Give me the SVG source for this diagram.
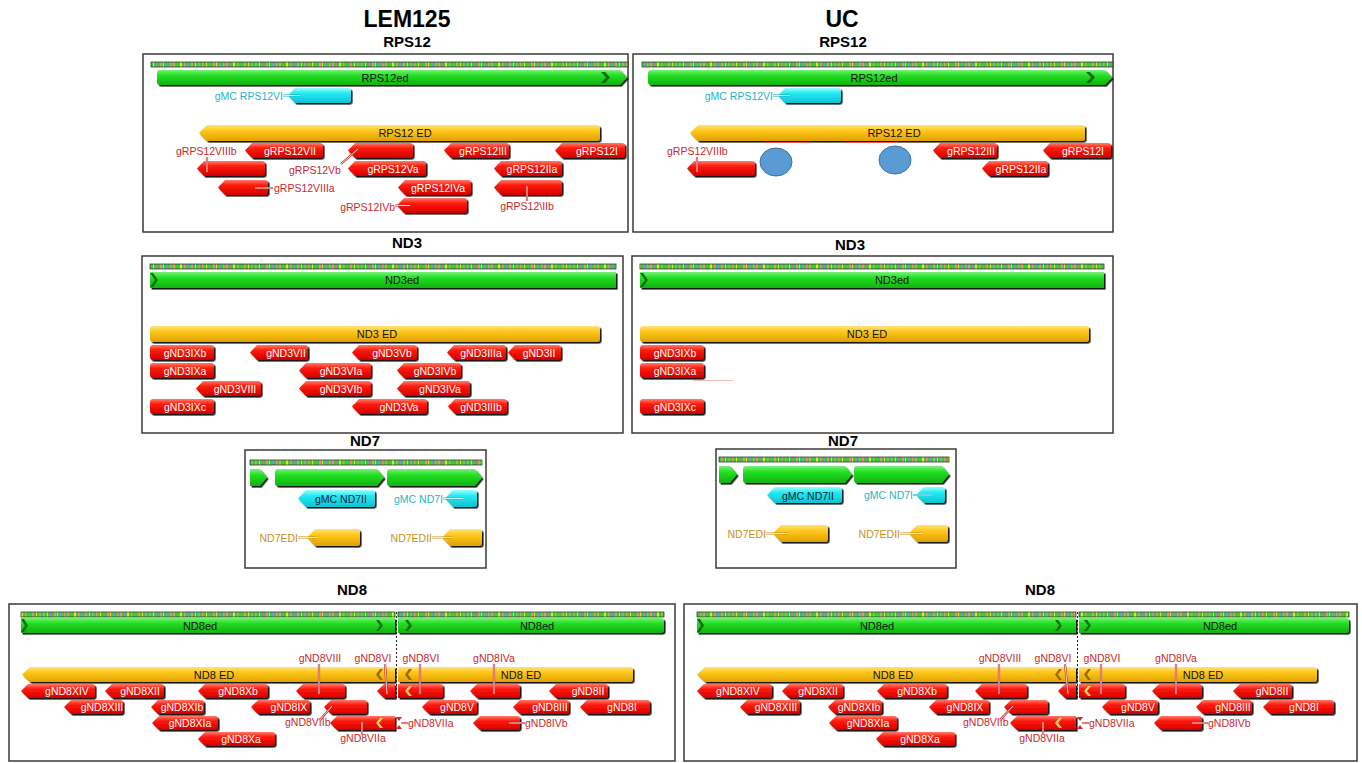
<svg xmlns="http://www.w3.org/2000/svg" width="1362" height="763" viewBox="0 0 1362 763">
<style>
.pn{fill:#fff;stroke:#3a3a3a;stroke-width:1.5}
.r{fill:url(#gr);filter:url(#ds)}
.g{fill:url(#gg);filter:url(#ds)}
.o{fill:url(#go);filter:url(#ds)}
.c{fill:url(#gc);filter:url(#ds)}
.seq{fill:url(#seq);stroke:#222;stroke-width:0.7}
text{font-family:"Liberation Sans",Arial,sans-serif;font-size:10.5px}
.w{fill:#fff;text-anchor:middle}
.k{fill:#111;text-anchor:middle;font-size:11px}
.lr{fill:#c8282c}
.lc{fill:#1fb4c4}
.lo{fill:#c8901c}
.e{text-anchor:end}
.m{text-anchor:middle}
.h1{font-weight:bold;font-size:23px;text-anchor:middle;fill:#000}
.h2{font-weight:bold;font-size:15px;text-anchor:middle;fill:#000}
.cg{fill:#0b6e0b}
.co{fill:#9a6a00}
.cy{fill:#ffd860}
.ld{fill:none;stroke-width:2.2}
.sr{stroke:#c8282c}.sc{stroke:#1fb4c4}.so{stroke:#c8901c}
.lw{fill:none;stroke:#fff;stroke-width:0.8}
.brk{stroke:#222;stroke-width:1;stroke-dasharray:2 2}
</style>
<defs>
<filter id="ds" x="-5%" y="-20%" width="115%" height="160%"><feDropShadow dx="1.6" dy="1.6" stdDeviation="0.3" flood-color="#000" flood-opacity="0.9"/></filter>
<linearGradient id="gr" x1="0" y1="0" x2="0" y2="1"><stop offset="0" stop-color="#ff7a6a"/><stop offset="0.35" stop-color="#ff1a0a"/><stop offset="1" stop-color="#d00000"/></linearGradient>
<linearGradient id="gg" x1="0" y1="0" x2="0" y2="1"><stop offset="0" stop-color="#7af07a"/><stop offset="0.35" stop-color="#22e022"/><stop offset="1" stop-color="#12b012"/></linearGradient>
<linearGradient id="go" x1="0" y1="0" x2="0" y2="1"><stop offset="0" stop-color="#ffe27a"/><stop offset="0.35" stop-color="#ffc81a"/><stop offset="1" stop-color="#e0a000"/></linearGradient>
<linearGradient id="gc" x1="0" y1="0" x2="0" y2="1"><stop offset="0" stop-color="#9affff"/><stop offset="0.35" stop-color="#22eaf2"/><stop offset="1" stop-color="#10c2d2"/></linearGradient>
<pattern id="seq" patternUnits="userSpaceOnUse" width="53" height="8">
<rect width="53" height="8" fill="#2bd42b"/>
<rect x="1" width="2" height="8" fill="#f08a8a"/><rect x="4" width="1" height="8" fill="#e8e030"/><rect x="7" width="2" height="8" fill="#8a8af0"/><rect x="11" width="1.5" height="8" fill="#f08a8a"/><rect x="14" width="2" height="8" fill="#f08a8a"/><rect x="18" width="1" height="8" fill="#c070c0"/><rect x="21" width="2" height="8" fill="#e8e030"/><rect x="25" width="1.5" height="8" fill="#f08a8a"/><rect x="29" width="1" height="8" fill="#8a8af0"/><rect x="32" width="2" height="8" fill="#f08a8a"/><rect x="36" width="1" height="8" fill="#e8e030"/><rect x="39" width="2" height="8" fill="#a0a0a0"/><rect x="43" width="1.5" height="8" fill="#f08a8a"/><rect x="47" width="1" height="8" fill="#e8e030"/><rect x="50" width="1.5" height="8" fill="#c070c0"/>
</pattern>
</defs>
<rect width="1362" height="763" fill="#fff"/>

<g id="titles">
<text class="h1" x="407" y="27">LEM125</text>
<text class="h1" x="842" y="27">UC</text>
<text class="h2" x="407" y="47">RPS12</text>
<text class="h2" x="843" y="47">RPS12</text>
<text class="h2" x="407" y="248">ND3</text>
<text class="h2" x="850" y="250">ND3</text>
<text class="h2" x="365" y="446">ND7</text>
<text class="h2" x="843" y="446">ND7</text>
<text class="h2" x="352" y="595">ND8</text>
<text class="h2" x="1040" y="595">ND8</text>
</g>

<g id="panels">
<rect class="pn" x="143" y="54" width="485" height="178"/>
<rect class="pn" x="633" y="54" width="480" height="178"/>
<rect class="pn" x="142" y="256" width="481" height="177"/>
<rect class="pn" x="632" y="256" width="481" height="177"/>
<rect class="pn" x="245" y="450" width="241" height="118"/>
<rect class="pn" x="716" y="449" width="240" height="119"/>
<rect class="pn" x="9" y="604" width="666" height="157"/>
<rect class="pn" x="684" y="604" width="673" height="157"/>
</g>

<!-- RPS12 LEM125 -->
<g id="rps12-l-seq"><rect class="seq" x="151" y="62" width="477" height="5"/></g>
<g id="rps12-l-RPS12ed"><path class="g" d="M160,70H620L627,77.5L620,85H160Q157,85 157,82V73Q157,70 160,70Z"/><polygon class="cg" points="601,72 605,72 610,77.5 605,83 601,83 606,77.5"/><text class="k" x="385" y="81.5">RPS12ed</text></g>
<g id="rps12-l-gMCRPS12VI"><path class="c" d="M288,95.5L295,88H348Q351,88 351,91V100Q351,103 348,103H295Z"/><text class="lc e" x="283" y="100">gMC RPS12VI</text></g>
<g id="rps12-l-ED"><path class="o" d="M199,133L207,125H597Q600,125 600,128V138Q600,141 597,141H207Z"/><text class="k" x="405" y="137">RPS12 ED</text></g>
<g id="rps12-l-VII"><path class="r" d="M245,150.5L252,143H320Q323,143 323,146V155Q323,158 320,158H252Z"/><text class="w" x="290" y="154.5">gRPS12VII</text></g>
<g id="rps12-l-Vb"><path class="r" d="M348,150.5L355,143H410Q413,143 413,146V155Q413,158 410,158H355Z"/><text class="lr" x="289" y="174">gRPS12Vb</text></g>
<g id="rps12-l-III"><path class="r" d="M444,150.5L451,143H506Q509,143 509,146V155Q509,158 506,158H451Z"/><text class="w" x="483" y="154.5">gRPS12III</text></g>
<g id="rps12-l-I"><path class="r" d="M555,150.5L562,143H622Q625,143 625,146V155Q625,158 622,158H562Z"/><text class="w" x="597" y="154.5">gRPS12I</text></g>
<g id="rps12-l-VIIIb"><path class="r" d="M197,168.5L204,161H262Q265,161 265,164V173Q265,176 262,176H204Z"/><text class="lr" x="176" y="155">gRPS12VIIIb</text></g>
<g id="rps12-l-Va"><path class="r" d="M348,168.5L355,161H423Q426,161 426,164V173Q426,176 423,176H355Z"/><text class="w" x="393" y="172.5">gRPS12Va</text></g>
<g id="rps12-l-IIa"><path class="r" d="M494,168.5L501,161H559Q562,161 562,164V173Q562,176 559,176H501Z"/><text class="w" x="532" y="172.5">gRPS12IIa</text></g>
<g id="rps12-l-VIIIa"><path class="r" d="M218,187.5L225,180H265Q268,180 268,183V192Q268,195 265,195H225Z"/><text class="lr" x="274" y="192">gRPS12VIIIa</text></g>
<g id="rps12-l-IVa"><path class="r" d="M398,187.5L405,180H468Q471,180 471,183V192Q471,195 468,195H405Z"/><text class="w" x="438" y="191.5">gRPS12IVa</text></g>
<g id="rps12-l-IIb"><path class="r" d="M494,187.5L501,180H559Q562,180 562,183V192Q562,195 559,195H501Z"/><text class="lr m" x="527" y="210">gRPS12\IIb</text></g>
<g id="rps12-l-IVb"><path class="r" d="M397,205.5L404,198H464Q467,198 467,201V210Q467,213 464,213H404Z"/><text class="lr e" x="395" y="211">gRPS12IVb</text></g>

<!-- RPS12 UC -->
<g id="rps12-r-seq"><rect class="seq" x="642" y="62" width="471" height="5"/></g>
<g id="rps12-r-RPS12ed"><path class="g" d="M651,70H1105L1112,77.5L1105,85H651Q648,85 648,82V73Q648,70 651,70Z"/><polygon class="cg" points="1086,72 1090,72 1095,77.5 1090,83 1086,83 1091,77.5"/><text class="k" x="874" y="81.5">RPS12ed</text></g>
<g id="rps12-r-gMCRPS12VI"><path class="c" d="M778,95.5L785,88H838Q841,88 841,91V100Q841,103 838,103H785Z"/><text class="lc e" x="773" y="100">gMC RPS12VI</text></g>
<g id="rps12-r-ED"><path class="o" d="M690,133L698,125H1082Q1085,125 1085,128V138Q1085,141 1082,141H698Z"/><text class="k" x="894" y="137">RPS12 ED</text></g>
<g id="rps12-r-marks"><line x1="765" y1="142.5" x2="810" y2="142.5" stroke="#e06060" stroke-width="1"/><line x1="845" y1="142.5" x2="898" y2="142.5" stroke="#e06060" stroke-width="1"/></g>
<g id="rps12-r-VIIIb"><path class="r" d="M687,168.5L694,161H752Q755,161 755,164V173Q755,176 752,176H694Z"/><text class="lr" x="667" y="155">gRPS12VIIIb</text></g>
<g id="rps12-r-blob1"><ellipse cx="776" cy="162" rx="16" ry="14" fill="#5b9bd5" stroke="#41719c" stroke-width="1"/></g>
<g id="rps12-r-blob2"><ellipse cx="895" cy="160" rx="16" ry="14" fill="#5b9bd5" stroke="#41719c" stroke-width="1"/></g>
<g id="rps12-r-III"><path class="r" d="M933,150.5L940,143H994Q997,143 997,146V155Q997,158 994,158H940Z"/><text class="w" x="971" y="154.5">gRPS12III</text></g>
<g id="rps12-r-I"><path class="r" d="M1043,150.5L1050,143H1108Q1111,143 1111,146V155Q1111,158 1108,158H1050Z"/><text class="w" x="1083" y="154.5">gRPS12I</text></g>
<g id="rps12-r-IIa"><path class="r" d="M982,168.5L989,161H1045Q1048,161 1048,164V173Q1048,176 1045,176H989Z"/><text class="w" x="1021" y="172.5">gRPS12IIa</text></g>

<!-- ND3 LEM125 -->
<g id="nd3-l-seq"><rect class="seq" x="150" y="264" width="466" height="5"/></g>
<g id="nd3-l-ND3ed"><path class="g" d="M150,272H616V288H150Z"/><polygon class="cg" points="150,273 153,273 158,280 153,287 150,287 155,280"/><text class="k" x="402" y="284">ND3ed</text></g>
<g id="nd3-l-ED"><rect class="o" x="150" y="326" width="450" height="16" rx="3"/><text class="k" x="377" y="338">ND3 ED</text></g>
<g id="nd3-l-IXb"><rect class="r" x="150" y="345" width="64" height="15" rx="3"/><text class="w" x="185" y="356.5">gND3IXb</text></g>
<g id="nd3-l-VII"><path class="r" d="M250,352.5L257,345H305Q308,345 308,348V357Q308,360 305,360H257Z"/><text class="w" x="286" y="356.5">gND3VII</text></g>
<g id="nd3-l-Vb"><path class="r" d="M352,352.5L359,345H414Q417,345 417,348V357Q417,360 414,360H359Z"/><text class="w" x="392" y="356.5">gND3Vb</text></g>
<g id="nd3-l-IIIa"><path class="r" d="M447,352.5L454,345H503Q506,345 506,348V357Q506,360 503,360H454Z"/><text class="w" x="481" y="356.5">gND3IIIa</text></g>
<g id="nd3-l-II"><path class="r" d="M508,352.5L515,345H558Q561,345 561,348V357Q561,360 558,360H515Z"/><text class="w" x="539" y="356.5">gND3II</text></g>
<g id="nd3-l-IXa"><rect class="r" x="150" y="363" width="64" height="15" rx="3"/><text class="w" x="185" y="374.5">gND3IXa</text></g>
<g id="nd3-l-VIa"><path class="r" d="M299,370.5L306,363H368Q371,363 371,366V375Q371,378 368,378H306Z"/><text class="w" x="341" y="374.5">gND3VIa</text></g>
<g id="nd3-l-IVb"><path class="r" d="M397,370.5L404,363H458Q461,363 461,366V375Q461,378 458,378H404Z"/><text class="w" x="435" y="374.5">gND3IVb</text></g>
<g id="nd3-l-VIII"><path class="r" d="M196,388.5L203,381H258Q261,381 261,384V393Q261,396 258,396H203Z"/><text class="w" x="235" y="392.5">gND3VIII</text></g>
<g id="nd3-l-VIb"><path class="r" d="M299,388.5L306,381H368Q371,381 371,384V393Q371,396 368,396H306Z"/><text class="w" x="341" y="392.5">gND3VIb</text></g>
<g id="nd3-l-IVa"><path class="r" d="M397,388.5L404,381H467Q470,381 470,384V393Q470,396 467,396H404Z"/><text class="w" x="440" y="392.5">gND3IVa</text></g>
<g id="nd3-l-IXc"><rect class="r" x="150" y="399" width="64" height="15" rx="3"/><text class="w" x="185" y="410.5">gND3IXc</text></g>
<g id="nd3-l-Va"><path class="r" d="M352,406.5L359,399H424Q427,399 427,402V411Q427,414 424,414H359Z"/><text class="w" x="399" y="410.5">gND3Va</text></g>
<g id="nd3-l-IIIb"><path class="r" d="M448,406.5L455,399H504Q507,399 507,402V411Q507,414 504,414H455Z"/><text class="w" x="481" y="410.5">gND3IIIb</text></g>

<!-- ND3 UC -->
<g id="nd3-r-seq"><rect class="seq" x="640" y="264" width="464" height="5"/></g>
<g id="nd3-r-ND3ed"><path class="g" d="M640,272H1104V288H640Z"/><polygon class="cg" points="640,273 643,273 648,280 643,287 640,287 645,280"/><text class="k" x="892" y="284">ND3ed</text></g>
<g id="nd3-r-ED"><rect class="o" x="640" y="326" width="449" height="16" rx="3"/><text class="k" x="867" y="338">ND3 ED</text></g>
<g id="nd3-r-IXb"><rect class="r" x="640" y="345" width="64" height="15" rx="3"/><text class="w" x="675" y="356.5">gND3IXb</text></g>
<g id="nd3-r-IXa"><rect class="r" x="640" y="363" width="64" height="15" rx="3"/><text class="w" x="675" y="374.5">gND3IXa</text></g>
<g id="nd3-r-mark"><line x1="693" y1="380.5" x2="733" y2="380.5" stroke="#f0b8b8" stroke-width="1"/></g>
<g id="nd3-r-IXc"><rect class="r" x="640" y="399" width="64" height="15" rx="3"/><text class="w" x="675" y="410.5">gND3IXc</text></g>

<!-- ND7 LEM125 -->
<g id="nd7-l-seq"><rect class="seq" x="250" y="460" width="232" height="5"/></g>
<g id="nd7-l-g1"><path class="g" d="M250,469H260L267,477.5L260,486H250Z"/></g>
<g id="nd7-l-g2"><path class="g" d="M278,469H377L384,477.5L377,486H278Q275,486 275,483V472Q275,469 278,469Z"/></g>
<g id="nd7-l-g3"><path class="g" d="M390,469H475L482,477.5L475,486H390Q387,486 387,483V472Q387,469 390,469Z"/></g>
<g id="nd7-l-gMCND7II"><path class="c" d="M298,498.5L306,490H372Q375,490 375,493V504Q375,507 372,507H306Z"/><text x="341" y="502.5" fill="#0a2535" text-anchor="middle" font-size="11">gMC ND7II</text></g>
<g id="nd7-l-gMCND7I"><path class="c" d="M445,498.5L453,490H474Q477,490 477,493V504Q477,507 474,507H453Z"/><text class="lc e" x="443" y="502.5">gMC ND7I</text></g>
<g id="nd7-l-ND7EDI"><path class="o" d="M307,537.5L315,529H357Q360,529 360,532V543Q360,546 357,546H315Z"/><text class="lo e" x="298" y="542">ND7EDI</text></g>
<g id="nd7-l-ND7EDII"><path class="o" d="M442,537.5L450,529H479Q482,529 482,532V543Q482,546 479,546H450Z"/><text class="lo e" x="432" y="542">ND7EDII</text></g>

<!-- ND7 UC -->
<g id="nd7-r-seq"><rect class="seq" x="719" y="457" width="230" height="5"/></g>
<g id="nd7-r-g1"><path class="g" d="M719,466H730L737,474.5L730,483H719Z"/></g>
<g id="nd7-r-g2"><path class="g" d="M746,466H845L852,474.5L845,483H746Q743,483 743,480V469Q743,466 746,466Z"/></g>
<g id="nd7-r-g3"><path class="g" d="M857,466H942L949,474.5L942,483H857Q854,483 854,480V469Q854,466 857,466Z"/></g>
<g id="nd7-r-gMCND7II"><path class="c" d="M767,495L775,487H839Q842,487 842,490V500Q842,503 839,503H775Z"/><text x="808" y="499.5" fill="#0a2535" text-anchor="middle" font-size="11">gMC ND7II</text></g>
<g id="nd7-r-gMCND7I"><path class="c" d="M916,495L924,487H942Q945,487 945,490V500Q945,503 942,503H924Z"/><text class="lc e" x="913" y="499">gMC ND7I</text></g>
<g id="nd7-r-ND7EDI"><path class="o" d="M773,533.5L781,525H825Q828,525 828,528V539Q828,542 825,542H781Z"/><text class="lo e" x="766" y="538">ND7EDI</text></g>
<g id="nd7-r-ND7EDII"><path class="o" d="M909,533.5L917,525H945Q948,525 948,528V539Q948,542 945,542H917Z"/><text class="lo e" x="900" y="538">ND7EDII</text></g>

<!-- ND8 LEM125 -->
<g id="nd8-l-seq"><rect class="seq" x="21" y="612" width="374" height="5"/><rect class="seq" x="398" y="612" width="266" height="5"/></g>
<g id="nd8-l-ND8ed1"><path class="g" d="M21,618H395V633H21Z"/><polygon class="cg" points="21,619 24,619 28,625.5 24,632 21,632 25,625.5"/><polygon class="cg" points="376,620 379,620 383,625.5 379,631 376,631 380,625.5"/><text class="k" x="200" y="629.5">ND8ed</text></g>
<g id="nd8-l-ND8ed2"><path class="g" d="M398,618H661Q664,618 664,621V630Q664,633 661,633H398Z"/><polygon class="cg" points="405,620 408,620 412,625.5 408,631 405,631 409,625.5"/><text class="k" x="537" y="629.5">ND8ed</text></g>
<g id="nd8-l-ED1"><path class="o" d="M22,674.5L30,667H395V682H30Z"/><polygon class="co" points="383,669 380,669 376,674.5 380,680 383,680 379,674.5"/><text class="k" x="214" y="678.5">ND8 ED</text></g>
<g id="nd8-l-ED2"><path class="o" d="M398,667H630Q633,667 633,670V679Q633,682 630,682H398Z"/><polygon class="co" points="412,669 409,669 405,674.5 409,680 412,680 408,674.5"/><text class="k" x="521" y="678.5">ND8 ED</text></g>
<g id="nd8-l-XIV"><path class="r" d="M21,691L28,684H92Q95,684 95,687V695Q95,698 92,698H28Z"/><text class="w" x="67" y="695">gND8XIV</text></g>
<g id="nd8-l-XII"><path class="r" d="M105,691L112,684H161Q164,684 164,687V695Q164,698 161,698H112Z"/><text class="w" x="140" y="695">gND8XII</text></g>
<g id="nd8-l-Xb"><path class="r" d="M198,691L205,684H265Q268,684 268,687V695Q268,698 265,698H205Z"/><text class="w" x="238" y="695">gND8Xb</text></g>
<g id="nd8-l-VIII"><path class="r" d="M296,691L303,684H342Q345,684 345,687V695Q345,698 342,698H303Z"/><text class="lr m" x="320" y="662">gND8VIII</text></g>
<g id="nd8-l-VI-a"><path class="r" d="M377,691L384,684H395V698H384Z"/><text class="lr m" x="373" y="662">gND8VI</text></g>
<g id="nd8-l-VI-b"><path class="r" d="M398,684H440Q443,684 443,687V695Q443,698 440,698H398Z"/><polygon class="cy" points="412,686 409,686 405,691 409,696 412,696 408,691"/><text class="lr m" x="421" y="662">gND8VI</text></g>
<g id="nd8-l-IVa"><path class="r" d="M470,691L477,684H517Q520,684 520,687V695Q520,698 517,698H477Z"/><text class="lr m" x="494" y="662">gND8IVa</text></g>
<g id="nd8-l-II"><path class="r" d="M549,691L556,684H605Q608,684 608,687V695Q608,698 605,698H556Z"/><text class="w" x="588" y="695">gND8II</text></g>
<g id="nd8-l-XIII"><path class="r" d="M64,707L71,700H120Q123,700 123,703V711Q123,714 120,714H71Z"/><text class="w" x="102" y="711">gND8XIII</text></g>
<g id="nd8-l-XIb"><path class="r" d="M151,707L158,700H201Q204,700 204,703V711Q204,714 201,714H158Z"/><text class="w" x="182" y="711">gND8XIb</text></g>
<g id="nd8-l-IX"><path class="r" d="M251,707L258,700H307Q310,700 310,703V711Q310,714 307,714H258Z"/><text class="w" x="289" y="711">gND8IX</text></g>
<g id="nd8-l-VIIb"><path class="r" d="M324,707L331,700H364Q367,700 367,703V711Q367,714 364,714H331Z"/><text class="lr" x="285" y="726">gND8VIIb</text></g>
<g id="nd8-l-V"><path class="r" d="M422,707L429,700H474Q477,700 477,703V711Q477,714 474,714H429Z"/><text class="w" x="457" y="711">gND8V</text></g>
<g id="nd8-l-III"><path class="r" d="M513,707L520,700H566Q569,700 569,703V711Q569,714 566,714H520Z"/><text class="w" x="550" y="711">gND8III</text></g>
<g id="nd8-l-I"><path class="r" d="M580,707L587,700H647Q650,700 650,703V711Q650,714 647,714H587Z"/><text class="w" x="622" y="711">gND8I</text></g>
<g id="nd8-l-XIa"><path class="r" d="M152,723L159,716H215Q218,716 218,719V727Q218,730 215,730H159Z"/><text class="w" x="190" y="727">gND8XIa</text></g>
<g id="nd8-l-VIIa"><path class="r" d="M330,723L337,716H395V730H337Z"/><polygon class="cy" points="383,718 380,718 376,723 380,728 383,728 379,723"/><text class="lr m" x="363" y="742">gND8VIIa</text></g>
<g id="nd8-l-VIIa2"><path d="M396,717H402L399,721Z M396,729H402L399,725Z" fill="#e02020"/><text class="lr" x="408" y="727">gND8VIIa</text></g>
<g id="nd8-l-IVb"><path class="r" d="M473,723L480,716H517Q520,716 520,719V727Q520,730 517,730H480Z"/><text class="lr" x="525" y="727">gND8IVb</text></g>
<g id="nd8-l-Xa"><path class="r" d="M198,739L205,732H272Q275,732 275,735V743Q275,746 272,746H205Z"/><text class="w" x="241" y="743">gND8Xa</text></g>

<!-- ND8 UC -->
<g id="nd8-r-seq"><rect class="seq" x="697" y="612" width="379" height="5"/><rect class="seq" x="1079" y="612" width="270" height="5"/></g>
<g id="nd8-r-ND8ed1"><path class="g" d="M697,618H1076V633H697Z"/><polygon class="cg" points="697,619 700,619 704,625.5 700,632 697,632 701,625.5"/><polygon class="cg" points="1055,620 1058,620 1062,625.5 1058,631 1055,631 1059,625.5"/><text class="k" x="877" y="629.5">ND8ed</text></g>
<g id="nd8-r-ND8ed2"><path class="g" d="M1079,618H1346Q1349,618 1349,621V630Q1349,633 1346,633H1079Z"/><polygon class="cg" points="1084,620 1087,620 1091,625.5 1087,631 1084,631 1088,625.5"/><text class="k" x="1220" y="629.5">ND8ed</text></g>
<g id="nd8-r-ED1"><path class="o" d="M697,674.5L705,667H1076V682H705Z"/><polygon class="co" points="1062,669 1059,669 1055,674.5 1059,680 1062,680 1058,674.5"/><text class="k" x="893" y="678.5">ND8 ED</text></g>
<g id="nd8-r-ED2"><path class="o" d="M1079,667H1314Q1317,667 1317,670V679Q1317,682 1314,682H1079Z"/><polygon class="co" points="1091,669 1088,669 1084,674.5 1088,680 1091,680 1087,674.5"/><text class="k" x="1203" y="678.5">ND8 ED</text></g>
<g id="nd8-r-XIV"><path class="r" d="M697,691L704,684H769Q772,684 772,687V695Q772,698 769,698H704Z"/><text class="w" x="738" y="695">gND8XIV</text></g>
<g id="nd8-r-XII"><path class="r" d="M782,691L789,684H840Q843,684 843,687V695Q843,698 840,698H789Z"/><text class="w" x="818" y="695">gND8XII</text></g>
<g id="nd8-r-Xb"><path class="r" d="M877,691L884,684H944Q947,684 947,687V695Q947,698 944,698H884Z"/><text class="w" x="917" y="695">gND8Xb</text></g>
<g id="nd8-r-VIII"><path class="r" d="M975,691L982,684H1024Q1027,684 1027,687V695Q1027,698 1024,698H982Z"/><text class="lr m" x="1000" y="662">gND8VIII</text></g>
<g id="nd8-r-VI-a"><path class="r" d="M1058,691L1065,684H1076V698H1065Z"/><text class="lr m" x="1053" y="662">gND8VI</text></g>
<g id="nd8-r-VI-b"><path class="r" d="M1079,684H1122Q1125,684 1125,687V695Q1125,698 1122,698H1079Z"/><polygon class="cy" points="1091,686 1088,686 1084,691 1088,696 1091,696 1087,691"/><text class="lr m" x="1102" y="662">gND8VI</text></g>
<g id="nd8-r-IVa"><path class="r" d="M1152,691L1159,684H1199Q1202,684 1202,687V695Q1202,698 1199,698H1159Z"/><text class="lr m" x="1176" y="662">gND8IVa</text></g>
<g id="nd8-r-II"><path class="r" d="M1233,691L1240,684H1289Q1292,684 1292,687V695Q1292,698 1289,698H1240Z"/><text class="w" x="1272" y="695">gND8II</text></g>
<g id="nd8-r-XIII"><path class="r" d="M740,707L747,700H797Q800,700 800,703V711Q800,714 797,714H747Z"/><text class="w" x="776" y="711">gND8XIII</text></g>
<g id="nd8-r-XIb"><path class="r" d="M828,707L835,700H879Q882,700 882,703V711Q882,714 879,714H835Z"/><text class="w" x="859" y="711">gND8XIb</text></g>
<g id="nd8-r-IX"><path class="r" d="M929,707L936,700H986Q989,700 989,703V711Q989,714 986,714H936Z"/><text class="w" x="965" y="711">gND8IX</text></g>
<g id="nd8-r-VIIb"><path class="r" d="M1004,707L1011,700H1045Q1048,700 1048,703V711Q1048,714 1045,714H1011Z"/><text class="lr" x="963" y="726">gND8VIIb</text></g>
<g id="nd8-r-V"><path class="r" d="M1102,707L1109,700H1155Q1158,700 1158,703V711Q1158,714 1155,714H1109Z"/><text class="w" x="1138" y="711">gND8V</text></g>
<g id="nd8-r-III"><path class="r" d="M1196,707L1203,700H1249Q1252,700 1252,703V711Q1252,714 1249,714H1203Z"/><text class="w" x="1233" y="711">gND8III</text></g>
<g id="nd8-r-I"><path class="r" d="M1263,707L1270,700H1331Q1334,700 1334,703V711Q1334,714 1331,714H1270Z"/><text class="w" x="1304" y="711">gND8I</text></g>
<g id="nd8-r-XIa"><path class="r" d="M829,723L836,716H894Q897,716 897,719V727Q897,730 894,730H836Z"/><text class="w" x="868" y="727">gND8XIa</text></g>
<g id="nd8-r-VIIa"><path class="r" d="M1010,723L1017,716H1076V730H1017Z"/><polygon class="cy" points="1062,718 1059,718 1055,723 1059,728 1062,728 1058,723"/><text class="lr m" x="1042" y="742">gND8VIIa</text></g>
<g id="nd8-r-VIIa2"><path d="M1077,717H1083L1080,721Z M1077,729H1083L1080,725Z" fill="#e02020"/><text class="lr" x="1089" y="727">gND8VIIa</text></g>
<g id="nd8-r-IVb"><path class="r" d="M1154,723L1161,716H1199Q1202,716 1202,719V727Q1202,730 1199,730H1161Z"/><text class="lr" x="1208" y="727">gND8IVb</text></g>
<g id="nd8-r-Xa"><path class="r" d="M876,739L883,732H952Q955,732 955,735V743Q955,746 952,746H883Z"/><text class="w" x="920" y="743">gND8Xa</text></g>

<g id="breaks">
<line class="brk" x1="396.5" y1="612" x2="396.5" y2="699"/>
<line class="brk" x1="1077.5" y1="612" x2="1077.5" y2="699"/>
</g>

<g id="connectors">
<path class="ld sc" d="M283,95.5H300 M773,95.5H790 M443,498.5H463 M913,495H932"/>
<path class="lw" d="M283,95.5H300 M773,95.5H790 M443,498.5H463 M913,495H932"/>
<path class="ld so" d="M298,537.5H318 M432,537.5H452 M766,533.5H788 M900,533.5H922"/>
<path class="lw" d="M298,537.5H318 M432,537.5H452 M766,533.5H788 M900,533.5H922"/>
<path class="ld sr" d="M207,157V172 M697,157V172 M358,149L341,164 M255,188H273 M527,186V201 M395,205.5H410 M319,664V694 M385,664L387,694 M420,664V694 M494,664V694 M332,706L320,720 M362,722V735 M401,723H408 M509,723H525 M999,664V694 M1065,664L1068,694 M1101,664V694 M1176,664V694 M1013,706L1000,720 M1043,722V735 M1082,723H1089 M1192,723H1208"/>
<path class="lw" d="M207,157V172 M697,157V172 M358,149L341,164 M255,188H273 M527,186V201 M395,205.5H410 M319,664V694 M385,664L387,694 M420,664V694 M494,664V694 M332,706L320,720 M362,722V735 M401,723H408 M509,723H525 M999,664V694 M1065,664L1068,694 M1101,664V694 M1176,664V694 M1013,706L1000,720 M1043,722V735 M1082,723H1089 M1192,723H1208"/>
</g>
</svg>
